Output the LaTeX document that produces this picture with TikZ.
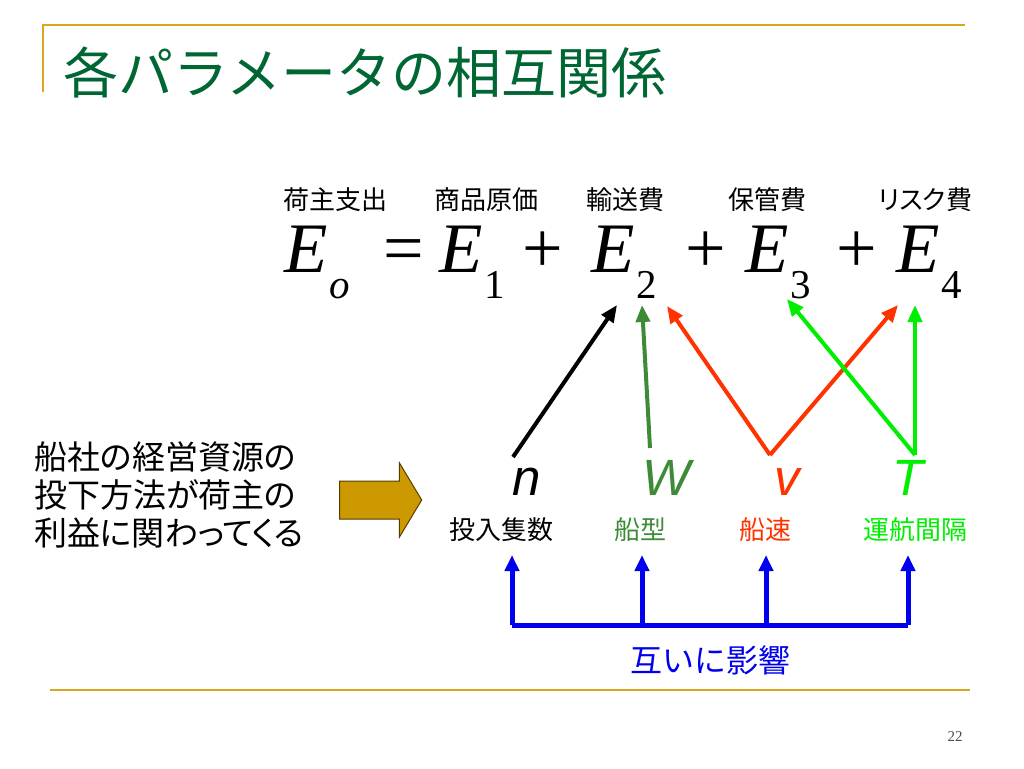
\documentclass[tikz,border=0pt]{standalone}
\usepackage{fontspec}
\usepackage{tikz}
\usetikzlibrary{
    shapes.arrows,
    arrows.meta,
    positioning,
    calc
}
\newfontfamily\jpfont{Noto Sans CJK JP}
\newfontfamily\jppfont[RawFeature=+palt]{Noto Sans CJK JP}
\newfontfamily\eqfont{Liberation Serif}
\newfontfamily\varfont{Liberation Sans}
\definecolor{goldline}{RGB}{218, 165, 32}
\definecolor{titlegreen}{RGB}{0, 102, 51}
\definecolor{shipgreen}{RGB}{61, 139, 55}
\definecolor{speedred}{RGB}{255, 51, 0}
\definecolor{intervalgreen}{RGB}{0, 238, 0}
\definecolor{mutualblue}{RGB}{0, 0, 238}
\definecolor{blockgold}{RGB}{204, 153, 0}
\newcommand{\esub}[1]{\kern2pt\raisebox{-26pt}{\fontsize{41}{41}\selectfont #1}}

\begin{document}
\begin{tikzpicture}[x=1pt, y=-1pt,
        eqterm/.style={anchor=base west, inner sep=0pt, font=\eqfont\fontsize{71}{71}\selectfont},
        eqop/.style={anchor=base, inner sep=0pt, font=\eqfont\fontsize{72}{72}\selectfont},
        costlabel/.style={inner sep=0pt, font=\jppfont\fontsize{26}{26}\selectfont},
        varsym/.style={anchor=base, inner sep=0pt, font=\varfont\itshape\fontsize{51}{51}\selectfont},
        varlabel/.style={inner sep=0pt, font=\jppfont\fontsize{26}{26}\selectfont},
        effect/.style={line width=4pt, -{Triangle[length=17pt, width=14pt]}},
        mutual/.style={line width=5pt, mutualblue}
    ]
        \useasboundingbox (0,0) rectangle (1024,768);

        % Title and frame lines
        \draw[goldline, line width=2pt] (43,92) -- (43,25) -- (965,25);
        \node[anchor=west, inner sep=0pt, text=titlegreen, font=\jpfont\fontsize{55}{55}\selectfont] (title) at (63,72) {各パラメータの相互関係};
        \draw[goldline, line width=2pt] (50,690) -- (970,690);
        \node[font=\eqfont\fontsize{15}{15}\selectfont, text=black!70] (pageno) at (955,737) {22};

        % Cost labels above the equation
        \foreach \name/\x/\txt in {lo/335/荷主支出, l1/486/商品原価, l2/625/輸送費, l3/767/保管費, l4/925/リスク費} {
            \node[costlabel] (\name) at (\x,200) {\txt};
        }

        % Equation
        \node[eqterm] (eo) at (284,272) {\itshape E\esub{o}};
        \node[eqop] (eq) at (404,272) {=};
        \node[eqterm] (e1) at (439,272) {\itshape E\esub{\upshape 1}};
        \node[eqop] (p1) at (543,272) {+};
        \node[eqterm] (e2) at (591,272) {\itshape E\esub{\upshape 2}};
        \node[eqop] (p2) at (706,272) {+};
        \node[eqterm] (e3) at (745,272) {\itshape E\esub{\upshape 3}};
        \node[eqop] (p3) at (857,272) {+};
        \node[eqterm] (e4) at (896,272) {\itshape E\esub{\upshape 4}};

        % Parameters
        \node[varsym] (varn) at (527,495) {n};
        \node[varsym, text=shipgreen] (varw) at (667,495) {W};
        \node[varsym, text=speedred] (varv) at (787,495) {v};
        \node[varsym, text=intervalgreen] (vart) at (908,495) {T};

        \node[varlabel] (labn) at (501,530) {投入隻数};
        \node[varlabel, text=shipgreen] (labw) at (640,530) {船型};
        \node[varlabel, text=speedred] (labv) at (765,530) {船速};
        \node[varlabel, text=intervalgreen] (labt) at (915,530) {運航間隔};

        % Arrow ends
        \coordinate (nfoot) at (513,457);
        \coordinate (wfoot) at (650,448);
        \coordinate (vfoot) at (770,455);
        \coordinate (tfoot) at (915,455);
        \coordinate (ntip) at (617,305);
        \coordinate (wtip) at (642,305);
        \coordinate (vtipa) at (667,306);
        \coordinate (vtipb) at (898,305);
        \coordinate (ttipa) at (787,299);
        \coordinate (ttipb) at (915,305);

        % Influence on the cost terms
        \draw[effect, black] (nfoot) -- (ntip);
        \draw[effect, shipgreen] (wfoot) -- (wtip);
        \draw[effect, speedred] (vfoot) -- (vtipa);
        \draw[effect, speedred] (vfoot) -- (vtipb);
        \draw[effect, intervalgreen] (tfoot) -- (ttipa);
        \draw[effect, intervalgreen] (tfoot) -- (ttipb);

        % Mutual influence bracket
        \foreach \i/\x in {1/512, 2/642, 3/766, 4/908} {
            \coordinate (base\i) at (\x,625);
            \coordinate (top\i) at (\x,555);
        }
        \draw[mutual, line join=miter] (base1) -- (base4);
        \foreach \i in {1,...,4} {
            \draw[mutual, -{Triangle[length=16pt, width=14pt]}] (base\i) -- (top\i);
        }
        \node[text=mutualblue, font=\jpfont\fontsize{32}{32}\selectfont] (mutuallabel) at (710,660) {互いに影響};

        % Side note and block arrow
        \node[anchor=west, align=left, inner sep=0pt, font=\jppfont\fontsize{33}{38}\selectfont] (note) at (34,495) {船社の経営資源の\\投下方法が荷主の\\利益に関わってくる};
        \node[single arrow, draw=black!60!blockgold, fill=blockgold, line width=1pt,
              inner xsep=0pt, inner ysep=18.5pt, minimum width=73pt, minimum height=82pt,
              single arrow head extend=18pt, single arrow tip angle=118] (blockarrow) at (375,500) {};
    \end{tikzpicture}
\end{document}
